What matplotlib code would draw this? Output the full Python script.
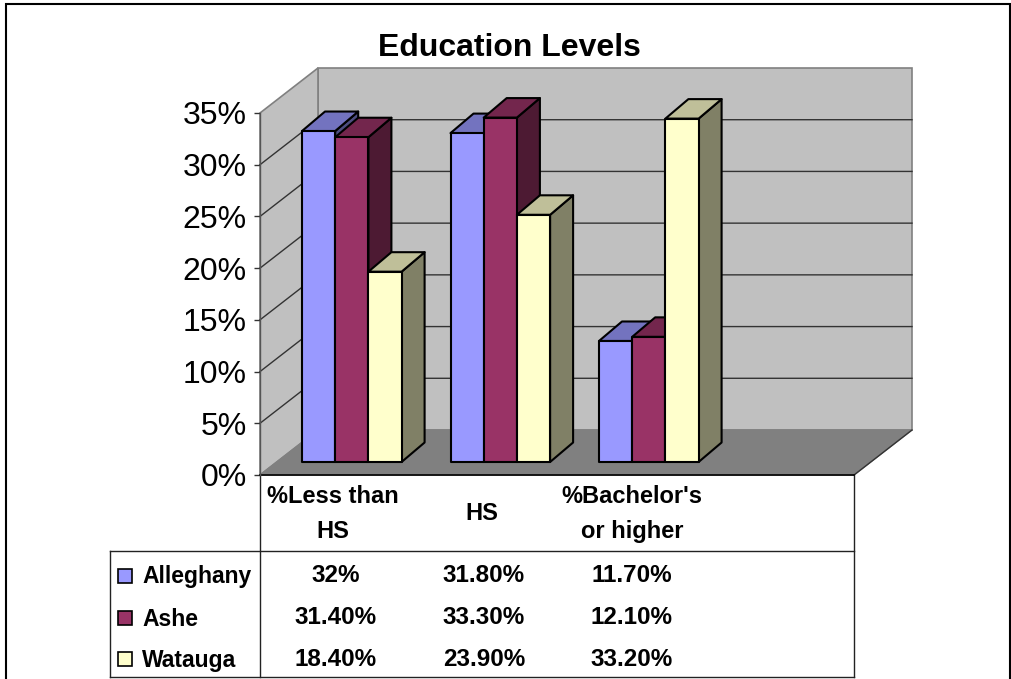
import matplotlib
matplotlib.use('Agg')
import matplotlib.pyplot as plt
from matplotlib.patches import Polygon, Rectangle

plt.rcParams['font.family'] = ['Liberation Sans', 'DejaVu Sans']

## Data
categories = ["%Less than\nHS", "HS", "%Bachelor's\nor higher"]
series = ['Alleghany', 'Ashe', 'Watauga']
alleghany = [32, 31.8, 11.7]
ashe = [31.4, 33.3, 12.1]
watauga = [18.4, 23.9, 33.2]
alleghany_txt = ['32%', '31.80%', '11.70%']
ashe_txt = ['31.40%', '33.30%', '12.10%']
watauga_txt = ['18.40%', '23.90%', '33.20%']
yticks = [0, 5, 10, 15, 20, 25, 30, 35]

## Colours: front, top, side
front = ['#9999FF', '#993366', '#FFFFCC']
top = ['#7373BF', '#73264D', '#BFBF99']
side = ['#4D4D80', '#4D1A33', '#808066']

W, H = 1011, 679
fig = plt.figure(figsize=(W / 100, H / 100), dpi=100, facecolor='white')

## Page axes in pixels, for the frame and the table
page = fig.add_axes([0, 0, 1, 1])
page.set_xlim(0, W)
page.set_ylim(H, 0)
page.axis('off')
page.add_patch(Rectangle((6, 4), 1004, 690, fc='white', ec='black', lw=1.5))

## Chart axes sit on the front plane of the 3D box
left, right, base, ceil = 260, 854, 475, 113
ax = fig.add_axes([left / W, 1 - base / H, (right - left) / W, (base - ceil) / H])
ax.set_xlim(left, right)
ax.set_ylim(0, 35)
ax.patch.set_alpha(0)
scale = (base - ceil) / 35

dx, dy = 58, 45 / scale
wall_c = '#C0C0C0'
edge_c = '#808080'
x0, x1 = left, right

# walls and floor
ax.add_patch(Polygon([(x0 + dx, dy), (x1 + dx, dy), (x1 + dx, 35 + dy), (x0 + dx, 35 + dy)],
                     fc=wall_c, ec=edge_c, lw=1.2, clip_on=False, zorder=1))
ax.add_patch(Polygon([(x0, 0), (x0 + dx, dy), (x0 + dx, 35 + dy), (x0, 35)],
                     fc=wall_c, ec=edge_c, lw=1.2, clip_on=False, zorder=1))
ax.add_patch(Polygon([(x0, 0), (x0 + dx, dy), (x1 + dx, dy), (x1, 0)],
                     fc=edge_c, ec=edge_c, lw=1, clip_on=False, zorder=1))
ax.plot([x1, x1 + dx], [0, dy], color='#333333', lw=1, clip_on=False, zorder=1.5)

# gridlines
for v in yticks[1:-1]:
    ax.plot([x0, x0 + dx, x1 + dx], [v, v + dy, v + dy], color='#333333', lw=1,
            clip_on=False, zorder=1.5)

# bars
bar_w = 33.2
step = 148.5
bdx, bdy = 23, 19.5 / scale
lift = 13 / scale
z = 3
for i in range(len(categories)):
    for j, vals in enumerate([alleghany, ashe, watauga]):
        xa = 302 + step * i + bar_w * j
        xb = xa + bar_w
        v = vals[i] + lift
        kw = dict(ec='black', lw=1.5, clip_on=False, joinstyle='round')
        ax.add_patch(Polygon([(xb, lift), (xb + bdx, lift + bdy), (xb + bdx, v + bdy), (xb, v)],
                             fc=side[j], zorder=z, **kw))
        ax.add_patch(Polygon([(xa, v), (xa + bdx, v + bdy), (xb + bdx, v + bdy), (xb, v)],
                             fc=top[j], zorder=z, **kw))
        ax.add_patch(Polygon([(xa, lift), (xb, lift), (xb, v), (xa, v)],
                             fc=front[j], zorder=z, **kw))
        z += 1

# axis
for s in ['top', 'right', 'bottom']:
    ax.spines[s].set_visible(False)
ax.spines['left'].set_color('#555555')
ax.spines['left'].set_linewidth(1)
ax.set_xticks([])
ax.set_yticks(yticks)
ax.set_yticklabels([str(v) + '%' for v in yticks], fontsize=23, color='black')
ax.tick_params(axis='y', length=4.5, width=1, color='#333333', pad=5)
ax.plot([x0, x1], [0, 0], color='black', lw=1.2, clip_on=False, zorder=2)

## Title
page.text(509.5, 48, 'Education Levels', fontsize=23, fontweight='bold', ha='center', va='center')

## Table
line_c = '#222222'
page.plot([110, 854], [551, 551], color=line_c, lw=1)
page.plot([110, 854], [677, 677], color=line_c, lw=1)
page.plot([110, 110], [551, 677], color=line_c, lw=1)
page.plot([260, 260], [475, 677], color=line_c, lw=1)
page.plot([854, 854], [475, 677], color=line_c, lw=1)

col_x = [336, 484, 632]
row_y = [576, 618, 659]
label_x = [333, 482, 632]
for x, lab in zip(label_x, categories):
    page.text(x, 514, lab, fontsize=17, fontweight='bold', ha='center', va='center', linespacing=1.65)

for y, name, c, txts in zip(row_y, series, front, [alleghany_txt, ashe_txt, watauga_txt]):
    page.add_patch(Rectangle((118, y - 7), 14, 14, fc=c, ec='black', lw=1.2))
    page.text(142, y + 1, name, fontsize=16.5, fontweight='bold', ha='left', va='center')
    for x, t in zip(col_x, txts):
        page.text(x, y, t, fontsize=17.5, fontweight='bold', ha='center', va='center')

plt.savefig('out.png', dpi=100)
